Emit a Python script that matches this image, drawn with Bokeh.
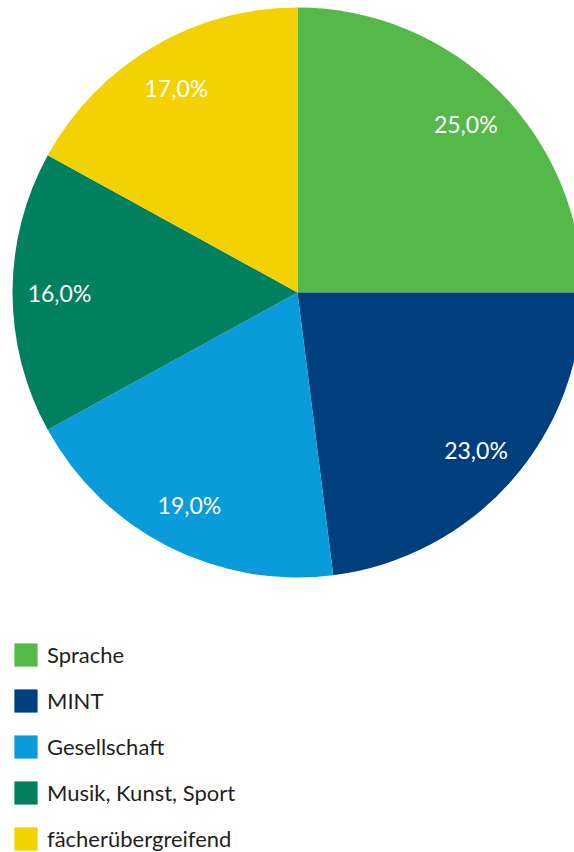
import math
from bokeh.plotting import figure
from bokeh.models import ColumnDataSource, Range1d, Legend, LegendItem
from bokeh.core.properties import value
from bokeh.embed import file_html
from bokeh.resources import INLINE

categories = ["Sprache", "MINT", "Gesellschaft", "Musik, Kunst, Sport", "fächerübergreifend"]
shares = [25.0, 23.0, 19.0, 16.0, 17.0]
colors = ["#54b948", "#003f7d", "#0a9bdb", "#00805f", "#f4d100"]
labels = ["25,0%", "23,0%", "19,0%", "16,0%", "17,0%"]

W, H = 574, 852
cx, cy, r = 297, H - 292, 285
total = sum(shares)
starts, ends, lx, ly = [], [], [], []
cum = 0.0
for s in shares:
    a0 = math.pi / 2 - 2 * math.pi * cum / total
    a1 = math.pi / 2 - 2 * math.pi * (cum + s) / total
    mid = (a0 + a1) / 2
    starts.append(a0)
    ends.append(a1)
    lx.append(cx + 0.835 * r * math.cos(mid))
    ly.append(cy + 0.835 * r * math.sin(mid))
    cum += s

src = ColumnDataSource(dict(cat=categories, start=starts, end=ends, color=colors,
                            lx=lx, ly=ly, label=labels))

p = figure(width=W, height=H, output_backend="svg", toolbar_location=None,
           x_range=Range1d(0, W), y_range=Range1d(0, H), min_border=0)
p.axis.visible = False
p.grid.visible = False
p.outline_line_color = None
p.background_fill_color = "white"

w = p.wedge(x=cx, y=cy, radius=r, start_angle="start", end_angle="end",
            direction="clock", fill_color="color", line_color=None, source=src)
p.text(x="lx", y="ly", text="label", source=src, text_color="white",
       text_font=value("Lato"), text_font_size="23px",
       text_align="center", text_baseline="middle")

items = [LegendItem(label=c, renderers=[w], index=i) for i, c in enumerate(categories)]
legend = Legend(items=items, location=(11, -1), padding=0, margin=0,
                glyph_width=29, glyph_height=29, label_height=29, spacing=17,
                label_standoff=7, label_text_font="Lato", label_text_font_size="22px",
                label_text_color="#231f20", border_line_color=None,
                background_fill_alpha=0)
p.add_layout(legend, "center")

open("out.html", "w").write(file_html(p, INLINE))
